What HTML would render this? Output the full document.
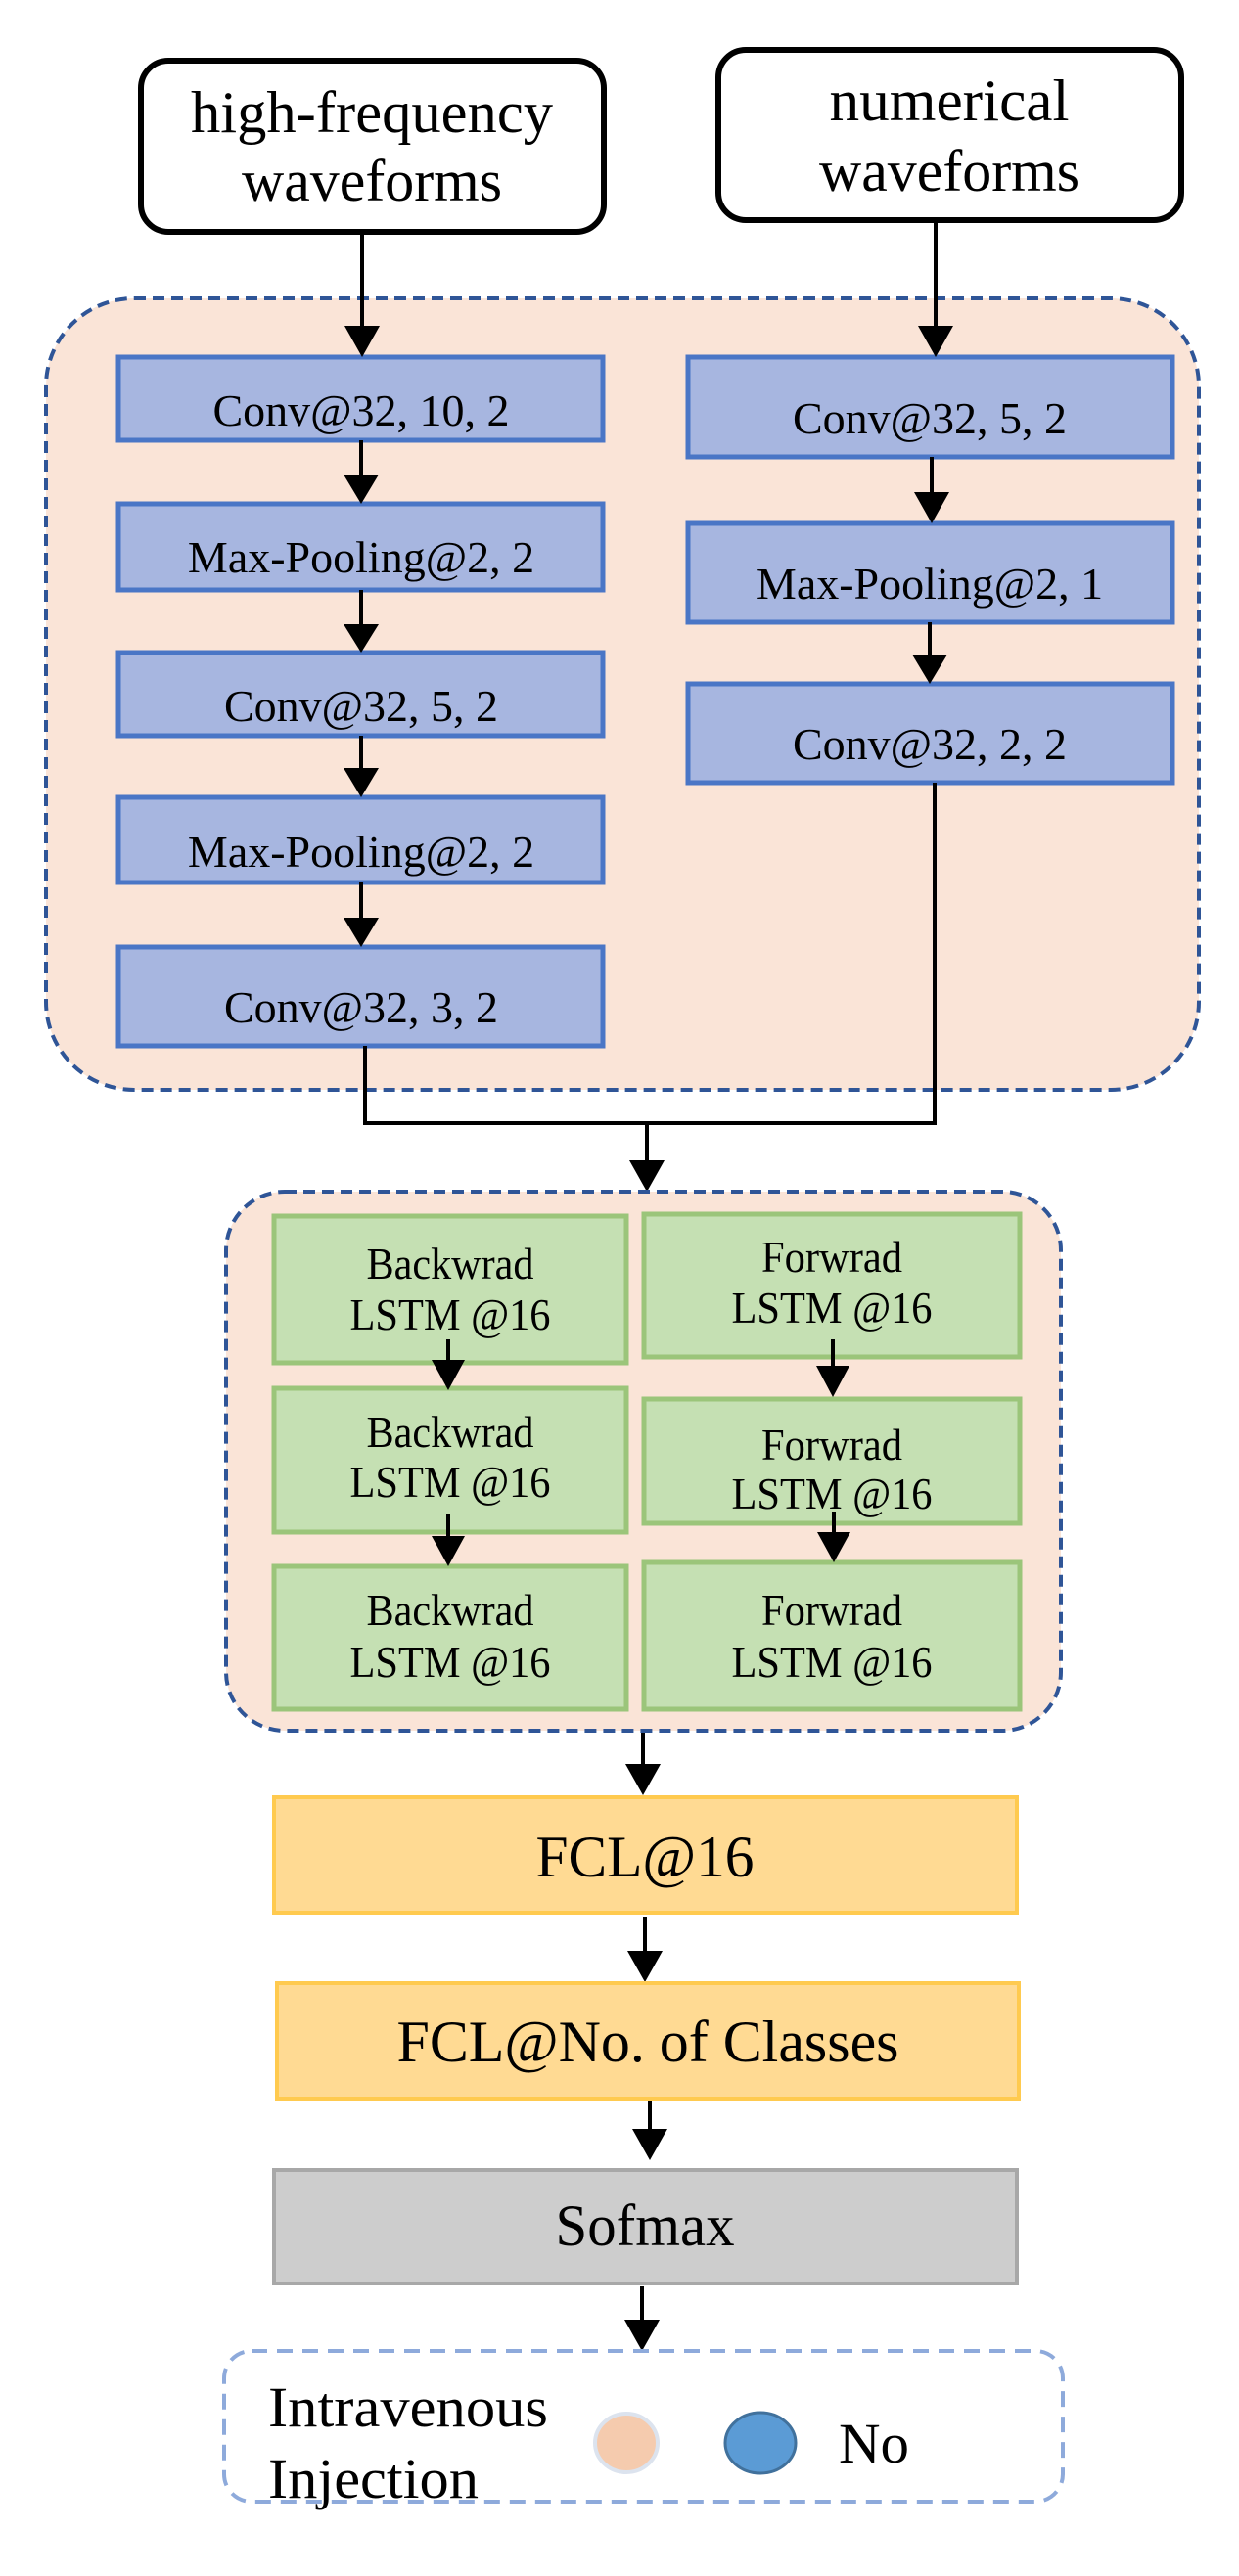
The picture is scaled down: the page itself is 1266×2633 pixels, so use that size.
<!DOCTYPE html>
<html><head><meta charset="utf-8"><style>
html,body{margin:0;padding:0;background:#fff}
svg{display:block}
text{font-family:"Liberation Serif",serif;fill:#000}
</style></head><body>
<svg width="1266" height="2633" viewBox="0 0 1266 2633" xmlns="http://www.w3.org/2000/svg">
<!-- input boxes -->
<rect x="144" y="62" width="473" height="175" rx="28" fill="#fff" stroke="#000" stroke-width="6"/>
<text x="380" y="135" font-size="60" text-anchor="middle" textLength="370" lengthAdjust="spacingAndGlyphs">high-frequency</text>
<text x="380" y="205" font-size="60" text-anchor="middle" textLength="266" lengthAdjust="spacingAndGlyphs">waveforms</text>
<rect x="734" y="51" width="473" height="174" rx="28" fill="#fff" stroke="#000" stroke-width="6"/>
<text x="970" y="123" font-size="60" text-anchor="middle" textLength="245" lengthAdjust="spacingAndGlyphs">numerical</text>
<text x="970" y="195" font-size="60" text-anchor="middle" textLength="266" lengthAdjust="spacingAndGlyphs">waveforms</text>

<!-- CNN region -->
<rect x="47" y="305" width="1178" height="809" rx="90" fill="#FAE4D7" stroke="#2F5597" stroke-width="4" stroke-dasharray="12 7"/>
<g fill="#A7B6E0" stroke="#4A76C6" stroke-width="5">
<rect x="121" y="365" width="495" height="85"/>
<rect x="121" y="515" width="495" height="88"/>
<rect x="121" y="667" width="495" height="85"/>
<rect x="121" y="815" width="495" height="87"/>
<rect x="121" y="968" width="495" height="101"/>
<rect x="703" y="365" width="495" height="102"/>
<rect x="703" y="535" width="495" height="101"/>
<rect x="703" y="699" width="495" height="101"/>
</g>
<g font-size="46" text-anchor="middle">
<text x="369" y="435">Conv@32, 10, 2</text>
<text x="369" y="585">Max-Pooling@2, 2</text>
<text x="369" y="737">Conv@32, 5, 2</text>
<text x="369" y="886">Max-Pooling@2, 2</text>
<text x="369" y="1045">Conv@32, 3, 2</text>
<text x="950" y="443">Conv@32, 5, 2</text>
<text x="950" y="612">Max-Pooling@2, 1</text>
<text x="950" y="776">Conv@32, 2, 2</text>
</g>

<!-- connectors -->
<g stroke="#000" stroke-width="4" fill="none">
<path d="M370 237V335"/><path d="M956 225V335"/>
<path d="M369 450V487"/><path d="M369 603V640"/><path d="M369 752V787"/><path d="M369 902V940"/>
<path d="M952 467V505"/><path d="M950 636V671"/>
<path d="M373 1069V1148H955V800"/>
<path d="M661 1148V1188"/>
<path d="M657 1769V1805"/><path d="M659 1959V1996"/><path d="M664 2146V2178"/><path d="M656 2337V2373"/>
</g>
<g fill="#000">
<polygon points="352,333 388,333 370,365"/>
<polygon points="938,333 974,333 956,365"/>
<polygon points="351,485 387,485 369,515"/>
<polygon points="351,638 387,638 369,667"/>
<polygon points="351,785 387,785 369,815"/>
<polygon points="351,938 387,938 369,968"/>
<polygon points="934,503 970,503 952,535"/>
<polygon points="932,669 968,669 950,699"/>
<polygon points="643,1186 679,1186 661,1218"/>
<polygon points="639,1803 675,1803 657,1835"/>
<polygon points="641,1994 677,1994 659,2026"/>
<polygon points="646,2176 682,2176 664,2208"/>
<polygon points="638,2371 674,2371 656,2403"/>
</g>

<!-- LSTM region -->
<rect x="231" y="1218" width="853" height="551" rx="60" fill="#FAE4D7" stroke="#2F5597" stroke-width="4" stroke-dasharray="12 7"/>
<g fill="#C5E0B3" stroke="#9BC57A" stroke-width="5">
<rect x="280" y="1243" width="360" height="150"/>
<rect x="280" y="1419" width="360" height="147"/>
<rect x="280" y="1601" width="360" height="146"/>
<rect x="658" y="1241" width="384" height="146"/>
<rect x="658" y="1430" width="384" height="127"/>
<rect x="658" y="1597" width="384" height="150"/>
</g>
<g stroke="#000" stroke-width="4"><path d="M458 1369V1392"/><path d="M851 1369V1398"/><path d="M458 1548V1572"/><path d="M852 1545V1568"/></g>
<g fill="#000">
<polygon points="441,1390 475,1390 458,1421"/>
<polygon points="834,1396 868,1396 851,1428"/>
<polygon points="441,1570 475,1570 458,1601"/>
<polygon points="835,1566 869,1566 852,1597"/>
</g>
<g font-size="46" text-anchor="middle">
<text x="460" y="1307" textLength="171" lengthAdjust="spacingAndGlyphs">Backwrad</text>
<text x="460" y="1359" textLength="205" lengthAdjust="spacingAndGlyphs">LSTM @16</text>
<text x="460" y="1479" textLength="171" lengthAdjust="spacingAndGlyphs">Backwrad</text>
<text x="460" y="1530" textLength="205" lengthAdjust="spacingAndGlyphs">LSTM @16</text>
<text x="460" y="1661" textLength="171" lengthAdjust="spacingAndGlyphs">Backwrad</text>
<text x="460" y="1714" textLength="205" lengthAdjust="spacingAndGlyphs">LSTM @16</text>
<text x="850" y="1300" textLength="144" lengthAdjust="spacingAndGlyphs">Forwrad</text>
<text x="850" y="1352" textLength="205" lengthAdjust="spacingAndGlyphs">LSTM @16</text>
<text x="850" y="1492" textLength="144" lengthAdjust="spacingAndGlyphs">Forwrad</text>
<text x="850" y="1542" textLength="205" lengthAdjust="spacingAndGlyphs">LSTM @16</text>
<text x="850" y="1661" textLength="144" lengthAdjust="spacingAndGlyphs">Forwrad</text>
<text x="850" y="1714" textLength="205" lengthAdjust="spacingAndGlyphs">LSTM @16</text>
</g>

<!-- FCL / softmax -->
<rect x="280" y="1837" width="759" height="118" fill="#FFDA93" stroke="#FFCA4F" stroke-width="4"/>
<text x="659" y="1918" font-size="60" text-anchor="middle" textLength="223" lengthAdjust="spacingAndGlyphs">FCL@16</text>
<rect x="283" y="2027" width="758" height="118" fill="#FFDA93" stroke="#FFCA4F" stroke-width="4"/>
<text x="662" y="2107" font-size="60" text-anchor="middle" textLength="513" lengthAdjust="spacingAndGlyphs">FCL@No. of Classes</text>
<rect x="280" y="2218" width="759" height="116" fill="#CDCDCD" stroke="#A8A8A8" stroke-width="4"/>
<text x="659" y="2295" font-size="60" text-anchor="middle" textLength="183" lengthAdjust="spacingAndGlyphs">Sofmax</text>

<!-- legend -->
<rect x="229" y="2403" width="857" height="154" rx="28" fill="#fff" stroke="#8EAADB" stroke-width="4" stroke-dasharray="16 10"/>
<text x="274" y="2480" font-size="58" textLength="286" lengthAdjust="spacingAndGlyphs">Intravenous</text>
<text x="274" y="2553" font-size="58" textLength="215" lengthAdjust="spacingAndGlyphs">Injection</text>
<ellipse cx="640" cy="2497" rx="32" ry="30" fill="#F5CBAE" stroke="#DCE3EE" stroke-width="4"/>
<ellipse cx="777" cy="2497" rx="36" ry="31" fill="#5B9BD5" stroke="#41719C" stroke-width="3"/>
<text x="857" y="2517" font-size="58" textLength="72" lengthAdjust="spacingAndGlyphs">No</text>
</svg>
</body></html>
